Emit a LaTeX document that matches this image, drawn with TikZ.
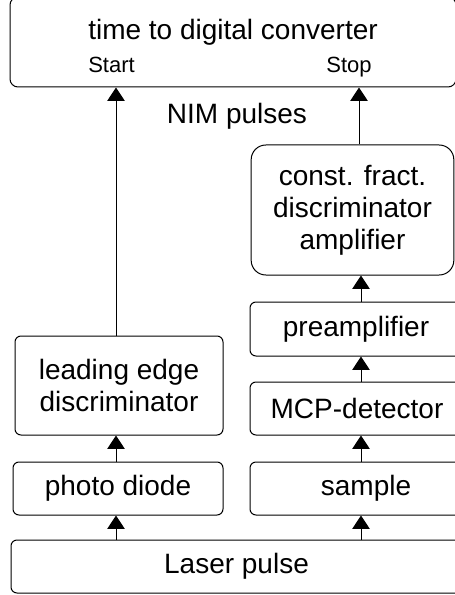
\documentclass[tikz,border=0pt]{standalone}
\usepackage{fontspec}
\setmainfont{Liberation Sans}
\usetikzlibrary{arrows.meta,calc}

\begin{document}
\begin{tikzpicture}[
x=0.75pt, y=-0.75pt, line width=0.75pt,
>={Triangle[length=10pt,width=13pt]},
unit/.style={draw, rounded corners=4.5pt, align=center, inner sep=0pt, font=\fontsize{21}{24}\selectfont},
txt/.style={inner sep=0pt, anchor=base, font=\fontsize{21}{24}\selectfont},
port/.style={inner sep=0pt, anchor=base, font=\fontsize{16.5}{19}\selectfont}
]
\useasboundingbox (0,0) rectangle (454,595);
\coordinate (lcol) at (116,0);
\coordinate (rcol) at (361,0);
% converter on top
\node[unit, rounded corners=6pt, minimum width=334.5pt, minimum height=67.5pt] (tdc) at (233,42) {};
\node[txt] (tdctext) at (233,40) {time to digital converter};
\node[port] (start) at (111.5,73) {Start};
\node[port] (stop) at (349,73) {Stop};
\node[txt] (nim) at (237,124) {NIM pulses};
% right branch
\node[unit, rounded corners=11pt, minimum width=152pt, minimum height=97.5pt] (cfd) at (352.5,210) {const. fract.\\discriminator\\amplifier};
\node[unit, minimum width=159pt, minimum height=40.5pt] (pre) at (356,329) {preamplifier};
\node[unit, minimum width=160.5pt, minimum height=39.75pt] (mcp) at (357,408.5) {MCP-detector};
\node[unit, minimum width=174pt, minimum height=39.75pt] (sample) at (366,488.5) {sample};
% left branch
\node[unit, minimum width=156pt, minimum height=74.25pt] (led) at (119,385.5) {leading edge\\discriminator};
\node[unit, minimum width=157.5pt, minimum height=39.75pt] (photo) at (118,488.5) {photo diode};
% source
\node[unit, minimum width=338.25pt, minimum height=39.75pt] (laser) at (236.5,566.5) {Laser pulse};

\draw[->] (laser.north -| lcol) -- (photo.south -| lcol);
\draw[->] (photo.north -| lcol) -- (led.south -| lcol);
\draw[->] (led.north -| lcol) -- (tdc.south -| lcol);
\draw[->] (laser.north -| rcol) -- (sample.south -| rcol);
\draw[->] (sample.north -| rcol) -- (mcp.south -| rcol);
\draw[->] (mcp.north -| rcol) -- (pre.south -| rcol);
\draw[->] (pre.north -| rcol) -- (cfd.south -| rcol);
\draw[->] ([xshift=-1.5pt]cfd.north -| rcol) -- ([xshift=-1.5pt]tdc.south -| rcol);
\end{tikzpicture}
\end{document}
